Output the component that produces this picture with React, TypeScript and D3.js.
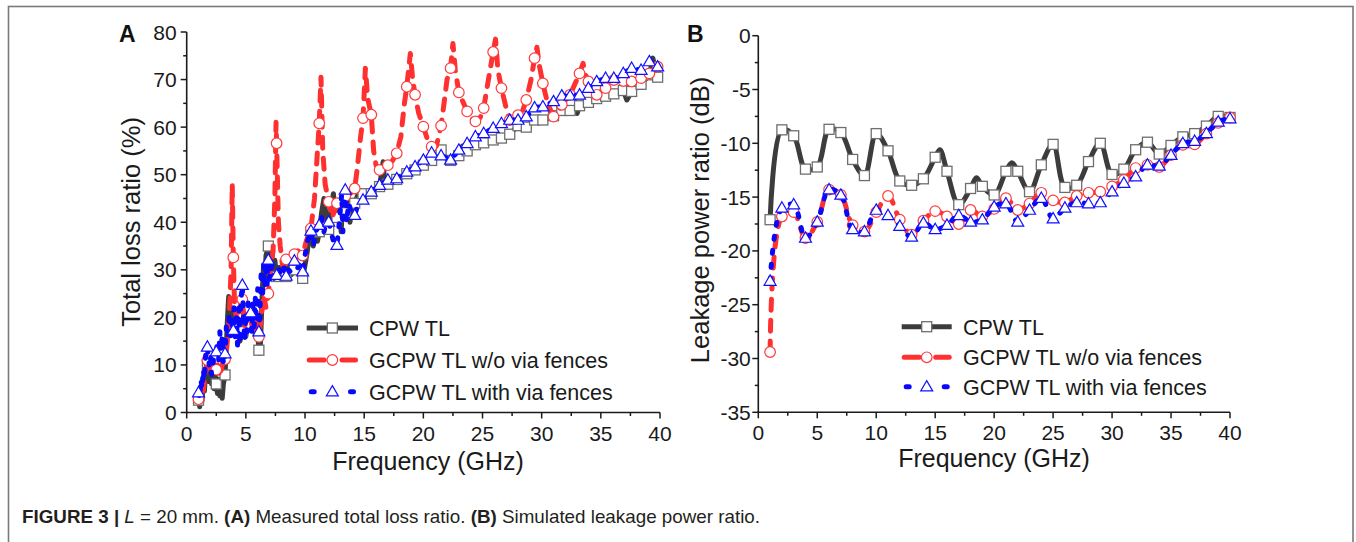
import * as d3 from "d3";

type Pt = [number, number];

const FONT = '"Liberation Sans", Arial, Helvetica, sans-serif';
const CAPTION_FONT = '"Liberation Sans Narrow", "Arial Narrow", "Liberation Sans", sans-serif';

// ---- ticks / labels ----
const xTicks = [0, 5, 10, 15, 20, 25, 30, 35, 40];
const xMinorTicks = [2.5, 7.5, 12.5, 17.5, 22.5, 27.5, 32.5, 37.5];
const yTicksA = [0, 10, 20, 30, 40, 50, 60, 70, 80];
const yMinorA = [5, 15, 25, 35, 45, 55, 65, 75];
const yTicksB = [0, -5, -10, -15, -20, -25, -30, -35];
const yMinorB = [-2.5, -7.5, -12.5, -17.5, -22.5, -27.5, -32.5];
const seriesNames = ["CPW TL", "GCPW TL w/o via fences", "GCPW TL with via fences"];

// ---- panel A : measured total loss ratio (%) ----
const markerFreqA = [
  1.0, 1.75, 2.5, 3.24, 3.94, 4.7, 5.4, 6.1, 6.9, 7.6, 8.4, 9.1, 9.8, 10.5, 11.2, 12.0, 12.7, 13.4,
  14.2, 14.9, 15.6, 16.3, 17.0, 17.75, 18.6, 19.3, 20.0, 20.7, 21.5, 22.3, 23.0, 23.7, 24.4, 25.1,
  25.9, 26.6, 27.3, 28.0, 28.7, 29.4, 30.1, 31.0, 31.7, 32.4, 33.2, 33.95, 34.65, 35.4, 36.1, 36.9,
  37.6, 38.4, 39.1, 39.8,
];
const cpwMarkA = [
  2.6, 10, 6, 7.9, 18, 17, 18, 13.1, 35, 28.6, 28.6, 30, 28.2, 38, 38, 38.5, 41, 42, 44, 46, 46,
  47.5, 48, 49, 50.2, 51, 52, 53, 55.2, 53, 54, 55, 56.3, 56.7, 57.3, 57.7, 58.5, 60.3, 60, 61.5,
  61.5, 62.4, 63.5, 63.5, 64.5, 65.2, 66, 66.5, 67, 67.7, 67.5, 69, 71, 70.5,
];
const noFenceMarkA = [
  2.8, 11, 9, 11.2, 32.6, 23.8, 20, 15.9, 25, 56.6, 32.2, 33.3, 33, 38.7, 60.8, 44.3, 44, 45.5,
  47.1, 61.9, 62.6, 51, 52, 54.5, 68.5, 66.8, 60.1, 55.9, 60.3, 72.4, 67.3, 63.3, 61.2, 64, 75.8,
  68.2, 61.5, 62.5, 65.7, 74.5, 69.2, 62.2, 64.7, 66.8, 71.3, 69.6, 66.8, 68.2, 69.9, 69.7, 69.6,
  70.3, 71.3, 72.7,
];
const fenceMarkA = [
  4.2, 13.8, 12.8, 12.4, 17.3, 26.8, 21, 17, 32.1, 28.9, 28.7, 31.9, 29.6, 38.2, 39.4, 40.1, 35.2,
  46.8, 41.5, 44.7, 46.4, 47.8, 48.9, 49.2, 50.6, 51.7, 53.1, 54.6, 54, 53.1, 55.2, 56.6, 58, 58.7,
  59.8, 60.8, 61.5, 61.5, 62.2, 64.1, 64.3, 65.4, 66.6, 66.6, 66.8, 68.2, 69.6, 70.3, 70.3, 71.3,
  72.4, 72, 73.8, 72.7,
];

const cpwLineA: Pt[] = [
  [1.0, 2.6], [1.1, 1.2], [1.2, 4.5], [1.3, 2.5], [1.4, 7.5], [1.5, 4.5], [1.6, 9.5], [1.75, 10],
  [1.85, 6.5], [2.0, 10.5], [2.1, 6], [2.2, 9], [2.3, 5], [2.4, 8], [2.5, 6], [2.6, 4], [2.7, 7],
  [2.8, 3.5], [2.9, 6.5], [3.0, 3.0], [3.1, 6], [3.24, 7.9], [3.35, 14], [3.45, 20], [3.55, 24.4],
  [3.65, 18], [3.75, 22], [3.85, 17], [3.94, 18], [4.05, 21], [4.2, 16], [4.35, 19], [4.5, 15],
  [4.7, 17], [4.85, 21], [5.0, 16], [5.2, 20], [5.4, 18], [5.6, 22], [5.8, 16], [5.95, 19],
  [6.1, 13.1], [6.2, 12.5], [6.3, 19], [6.4, 26], [6.5, 31], [6.6, 27], [6.7, 33], [6.9, 35],
  [7.0, 32], [7.15, 34], [7.3, 30], [7.45, 32], [7.6, 28.6], [7.8, 30.5], [8.0, 29], [8.2, 31],
  [8.4, 28.6], [8.6, 30.5], [8.85, 29], [9.1, 30], [9.3, 31], [9.5, 29], [9.8, 28.2], [10.0, 31],
  [10.2, 34], [10.35, 37], [10.5, 38], [10.7, 35], [10.9, 39], [11.05, 36], [11.2, 38], [11.4, 42],
  [11.6, 45], [11.8, 41], [12.0, 38.5], [12.2, 43], [12.4, 46], [12.55, 41], [12.7, 41], [12.9, 44],
  [13.05, 38], [13.2, 45], [13.4, 42], [13.6, 45], [13.8, 40], [14.0, 44], [14.2, 44], [14.5, 46],
  [14.9, 46], [15.3, 45.5], [15.6, 46], [16.0, 47], [16.3, 47.5], [16.6, 52.7], [16.75, 48],
  [17.0, 48], [17.4, 48.5], [17.75, 49], [18.2, 49.5], [18.6, 50.2], [19.3, 51], [20.0, 52],
  [20.7, 53], [21.2, 54], [21.5, 55.2], [21.9, 53.5], [22.3, 53], [23.0, 54], [23.3, 56],
  [23.7, 55], [24.4, 56.3], [25.1, 56.7], [25.9, 57.3], [26.6, 57.7], [27.3, 58.5], [28.0, 60.3],
  [28.7, 60], [29.4, 61.5], [30.1, 61.5], [31.0, 62.4], [31.7, 63.5], [32.4, 63.5], [33.0, 62.9],
  [33.2, 64.5], [33.95, 65.2], [34.65, 66], [35.4, 66.5], [36.1, 67], [36.9, 67.7], [37.2, 65.7],
  [37.6, 67.5], [38.4, 69], [39.1, 71], [39.4, 74.5], [39.6, 72], [39.8, 70.5],
];

const noFenceLineA: Pt[] = [
  [1.0, 2.8], [1.2, 6], [1.4, 4.5], [1.6, 9], [1.75, 11], [2.0, 9], [2.2, 12], [2.4, 8], [2.5, 9],
  [2.6, 10], [2.8, 7.5], [3.0, 10], [3.24, 11.2], [3.4, 14], [3.6, 20], [3.75, 30], [3.85, 48],
  [3.94, 32.6], [4.05, 22], [4.3, 19], [4.5, 22], [4.7, 23.8], [4.9, 18], [5.1, 21], [5.4, 20],
  [5.6, 17], [5.8, 19], [6.1, 15.9], [6.3, 20], [6.5, 25], [6.7, 22], [6.9, 25], [7.1, 30],
  [7.3, 34], [7.45, 45], [7.55, 61], [7.6, 56.6], [7.75, 40], [7.9, 35], [8.1, 31], [8.4, 32.2],
  [8.7, 33], [9.1, 33.3], [9.4, 34], [9.8, 33], [10.1, 36], [10.5, 38.7], [10.8, 45], [11.0, 53],
  [11.2, 60.8], [11.35, 70.5], [11.5, 55], [11.7, 48], [12.0, 44.3], [12.3, 41], [12.7, 44],
  [13.0, 45], [13.4, 45.5], [13.8, 46], [14.2, 47.1], [14.4, 51], [14.7, 58], [14.9, 61.9],
  [15.1, 72.4], [15.3, 66], [15.6, 62.6], [15.8, 55], [16.0, 52], [16.3, 51], [16.7, 51],
  [17.0, 52], [17.4, 53], [17.75, 54.5], [18.1, 58], [18.4, 65], [18.6, 68.5], [18.9, 75.5],
  [19.1, 70], [19.3, 66.8], [19.6, 63], [20.0, 60.1], [20.4, 57], [20.7, 55.9], [21.1, 56],
  [21.5, 60.3], [21.8, 66], [22.0, 70], [22.3, 72.4], [22.5, 77.6], [22.7, 72], [23.0, 67.3],
  [23.4, 65], [23.7, 63.3], [24.0, 62], [24.4, 61.2], [24.8, 62], [25.1, 64], [25.5, 70],
  [25.9, 75.8], [26.1, 78.5], [26.3, 72], [26.6, 68.2], [27.0, 64], [27.3, 61.5], [27.7, 62],
  [28.0, 62.5], [28.4, 63.5], [28.7, 65.7], [29.1, 70], [29.4, 74.5], [29.6, 76.8], [29.8, 73],
  [30.1, 69.2], [30.5, 65], [31.0, 62.2], [31.3, 63], [31.7, 64.7], [32.1, 66], [32.4, 66.8],
  [32.8, 69], [33.2, 71.3], [33.5, 73.4], [33.7, 71], [33.95, 69.6], [34.3, 68], [34.65, 66.8],
  [35.0, 67.5], [35.4, 68.2], [35.8, 69.5], [36.1, 69.9], [36.5, 70], [36.9, 69.7], [37.2, 69.5],
  [37.6, 69.6], [38.0, 70], [38.4, 70.3], [38.8, 70.8], [39.1, 71.3], [39.5, 72], [39.8, 72.7],
];

const fenceLineA: Pt[] = [
  [1.0, 4.2], [1.1, 3], [1.2, 7], [1.3, 5], [1.4, 9], [1.5, 7], [1.6, 12], [1.75, 13.8], [1.9, 10],
  [2.0, 12], [2.1, 8], [2.3, 12], [2.5, 12.8], [2.6, 15], [2.7, 11], [2.8, 17], [2.9, 13], [3.0, 16],
  [3.1, 10], [3.24, 12.4], [3.35, 18], [3.5, 16], [3.6, 21], [3.7, 15], [3.8, 19], [3.94, 17.3],
  [4.0, 22], [4.1, 15], [4.2, 20], [4.3, 14], [4.4, 22], [4.5, 14.5], [4.6, 24], [4.7, 26.8],
  [4.8, 20], [4.9, 15], [5.0, 21], [5.1, 17], [5.2, 23], [5.4, 21], [5.5, 17], [5.6, 23], [5.7, 18],
  [5.8, 24], [5.9, 19], [6.0, 26], [6.1, 17], [6.2, 22], [6.3, 30], [6.4, 24], [6.5, 31], [6.6, 26],
  [6.7, 30], [6.8, 27], [6.9, 32.1], [7.0, 28], [7.2, 31], [7.4, 28], [7.6, 28.9], [7.8, 30],
  [8.0, 29], [8.2, 30.5], [8.4, 28.7], [8.6, 30], [8.8, 29.5], [9.1, 31.9], [9.3, 30], [9.5, 31],
  [9.8, 29.6], [10.0, 33], [10.2, 36], [10.5, 38.2], [10.7, 35], [10.9, 38], [11.2, 39.4],
  [11.4, 41], [11.6, 38], [11.8, 40], [12.0, 40.1], [12.2, 38], [12.4, 36], [12.7, 35.2],
  [12.9, 40], [13.1, 46], [13.2, 38], [13.4, 46.8], [13.5, 40], [13.7, 44], [13.9, 42],
  [14.2, 41.5], [14.5, 44], [14.9, 44.7], [15.2, 45.5], [15.6, 46.4], [16.3, 47.8], [17.0, 48.9],
  [17.75, 49.2], [18.6, 50.6], [19.3, 51.7], [20.0, 53.1], [20.7, 54.6], [21.5, 54], [22.3, 53.1],
  [23.0, 55.2], [23.7, 56.6], [24.4, 58], [25.1, 58.7], [25.9, 59.8], [26.6, 60.8], [27.3, 61.5],
  [28.0, 61.5], [28.7, 62.2], [29.4, 64.1], [30.1, 64.3], [31.0, 65.4], [31.7, 66.6], [32.4, 66.6],
  [33.2, 66.8], [33.95, 68.2], [34.65, 69.6], [35.4, 70.3], [36.1, 70.3], [36.9, 71.3],
  [37.6, 72.4], [38.4, 72], [39.1, 73.8], [39.4, 74.2], [39.8, 72.7],
];

// ---- panel B : simulated leakage power ratio (dB) ----
const freqB = [
  1, 2, 3, 4, 5, 6, 7, 8, 9, 10, 11, 12, 13, 14, 15, 16, 17, 18, 19, 20, 21, 22, 23, 24, 25, 26, 27,
  28, 29, 30, 31, 32, 33, 34, 35, 36, 37, 38, 39, 40,
];
const cpwB = [
  -17.1, -8.75, -9.3, -12.4, -12.2, -8.7, -9.0, -11.5, -13.0, -9.1,
  -10.7, -13.5, -13.9, -13.3, -11.3, -12.6, -15.7, -14.2, -14.0, -14.8,
  -12.6, -12.6, -14.5, -12.0, -10.1, -14.1, -13.9, -11.7, -10.0, -12.9,
  -12.4, -10.6, -9.9, -11.0, -10.2, -9.4, -9.1, -8.4, -7.5, -7.6,
];
// curve crests of the CPW trace that fall between markers
const cpwCrestsB: Pt[] = [[15.4, -10.6], [18.5, -13.2], [21.5, -11.8]];
const noFenceB = [
  -29.4, -16.8, -16.4, -18.8, -17.3, -14.3, -14.8, -17.6, -18.2, -16.4,
  -14.9, -17.1, -18.5, -17.2, -16.3, -16.8, -17.5, -16.2, -16.8, -16.1,
  -15.1, -16.2, -15.6, -14.6, -15.3, -15.5, -14.9, -14.6, -14.5, -14.0,
  -13.4, -12.3, -12.0, -12.2, -11.1, -10.15, -10.1, -9.1, -8.1, -7.6,
];
const fenceB = [
  -22.8, -16.0, -15.7, -18.8, -17.3, -14.3, -14.8, -18.0, -18.2, -16.2,
  -16.7, -17.7, -18.7, -17.4, -18.0, -17.6, -16.7, -17.3, -17.1, -15.9,
  -15.6, -17.3, -16.2, -15.1, -17.0, -16.0, -15.5, -15.6, -15.5, -14.5,
  -13.7, -13.1, -12.0, -12.1, -11.1, -10.0, -9.8, -9.07, -8.0, -7.7,
];

// ---- styles ----
const GREY_LINE = "#3c3c3c";
const GREY_MARK = "#6e6e6e";
const RED = "#ff3030";
const BLUE = "#0808ff";
const LINE_W = 5;

type Kind = "square" | "circle" | "triangle";
const STYLES: { color: string; mark: string; dash?: string; kind: Kind }[] = [
  { color: GREY_LINE, mark: GREY_MARK, kind: "square" },
  { color: RED, mark: "#ff3b3b", dash: "11 10", kind: "circle" },
  { color: BLUE, mark: "#1010ff", dash: "3 11", kind: "triangle" },
];

const trianglePath = d3.symbol(d3.symbolTriangle, 62)() as string;

function Marker({ x, y, kind, color }: { x: number; y: number; kind: Kind; color: string }) {
  if (kind === "square")
    return <rect x={x - 5} y={y - 5} width={10} height={10} fill="#fff" stroke={color} strokeWidth={1.3} />;
  if (kind === "circle") return <circle cx={x} cy={y} r={5.3} fill="#fff" stroke={color} strokeWidth={1.2} />;
  return <path d={trianglePath} transform={`translate(${x},${y + 0.8})`} fill="#fff" stroke={color} strokeWidth={1.2} />;
}

type Scale = d3.ScaleLinear<number, number>;

function Axes({ xs, ys, yTicks, yMinor, labelGap }: { xs: Scale; ys: Scale; yTicks: number[]; yMinor: number[]; labelGap: number }) {
  const [x0, x1] = xs.range();
  const [y0, y1] = ys.range();
  const stroke = "#1a1a1a";
  return (
    <g fontFamily={FONT} fontSize={21} fill="#1a1a1a">
      <line x1={x0 - 0.8} x2={x1} y1={y0} y2={y0} stroke={stroke} strokeWidth={1.6} />
      <line x1={x0} x2={x0} y1={y0 + 0.8} y2={y1} stroke={stroke} strokeWidth={1.6} />
      {xTicks.map((t) => (
        <g key={`xt${t}`}>
          <line x1={xs(t)} x2={xs(t)} y1={y0} y2={y0 + 6} stroke={stroke} strokeWidth={1.5} />
          <text x={xs(t)} y={y0 + 28} textAnchor="middle">{t}</text>
        </g>
      ))}
      {xMinorTicks.map((t) => (
        <line key={`xm${t}`} x1={xs(t)} x2={xs(t)} y1={y0} y2={y0 + 3.5} stroke={stroke} strokeWidth={1.5} />
      ))}
      {yTicks.map((t) => (
        <g key={`yt${t}`}>
          <line x1={x0 - 6} x2={x0} y1={ys(t)} y2={ys(t)} stroke={stroke} strokeWidth={1.5} />
          <text x={x0 - labelGap} y={ys(t) + 7.5} textAnchor="end">{String(t)}</text>
        </g>
      ))}
      {yMinor.map((t) => (
        <line key={`ym${t}`} x1={x0 - 3.5} x2={x0} y1={ys(t)} y2={ys(t)} stroke={stroke} strokeWidth={1.5} />
      ))}
    </g>
  );
}

function Series({ line, marks, xs, ys, style, curve }: { line: Pt[]; marks: Pt[]; xs: Scale; ys: Scale; style: (typeof STYLES)[number]; curve: d3.CurveFactory }) {
  const gen = d3
    .line<Pt>()
    .x((d) => xs(d[0]))
    .y((d) => ys(d[1]))
    .curve(curve);
  return (
    <g>
      <path
        d={gen(line) ?? ""}
        fill="none"
        stroke={style.color}
        strokeWidth={LINE_W}
        strokeDasharray={style.dash}
        strokeLinecap="round"
        strokeLinejoin="round"
      />
      {marks.map((m, i) => (
        <Marker key={i} x={xs(m[0])} y={ys(m[1])} kind={style.kind} color={style.mark} />
      ))}
    </g>
  );
}

function Legend({ x0, x1, rows, textX }: { x0: number; x1: number; rows: number[]; textX: number }) {
  const mid = (x0 + x1) / 2;
  return (
    <g fontFamily={FONT} fontSize={21.5} fill="#1a1a1a">
      {STYLES.map((s, i) => {
        const y = rows[i];
        let segs: [number, number][];
        if (i === 0) segs = [[x0, x1]];
        else if (i === 1) segs = [[x0 + 2.5, x0 + 17.5], [x1 - 16, x1 - 2.5]];
        else segs = [[x0 + 4.5, x0 + 7.5], [x1 - 7.5, x1 - 4.5]];
        return (
          <g key={seriesNames[i]}>
            {segs.map((sg, j) => (
              <line key={j} x1={sg[0]} x2={sg[1]} y1={y} y2={y} stroke={s.color} strokeWidth={LINE_W} strokeLinecap={i === 0 ? "butt" : "round"} />
            ))}
            <Marker x={mid} y={y} kind={s.kind} color={s.mark} />
            <text x={textX} y={y + 8}>{seriesNames[i]}</text>
          </g>
        );
      })}
    </g>
  );
}

export default function App() {
  const xA = d3.scaleLinear().domain([0, 40]).range([186.7, 660]);
  const yA = d3.scaleLinear().domain([0, 80]).range([412.5, 32]);
  const xB = d3.scaleLinear().domain([0, 40]).range([758.3, 1230]);
  const yB = d3.scaleLinear().domain([-35, 0]).range([412.3, 35.7]);

  const marksA: Pt[][] = [cpwMarkA, noFenceMarkA, fenceMarkA].map((vals) => markerFreqA.map((f, i) => [f, vals[i]] as Pt));
  const linesA: Pt[][] = [cpwLineA, noFenceLineA, fenceLineA];

  const marksB: Pt[][] = [cpwB, noFenceB, fenceB].map((vals) => freqB.map((f, i) => [f, vals[i]] as Pt));
  const linesB: Pt[][] = [
    [...marksB[0], ...cpwCrestsB].sort((a, b) => a[0] - b[0]),
    marksB[1],
    marksB[2],
  ];
  const catmull = d3.curveCatmullRom.alpha(0.5);

  return (
    <svg
      width={1356}
      height={542}
      viewBox="0 0 1356 542"
      style={{ position: "absolute", left: 0, top: 0, display: "block", background: "#fff" }}
    >
      <rect x={8.5} y={6.5} width={1344.5} height={600} fill="none" stroke="#7a7a7a" strokeWidth={1.6} />

      {/* Panel A */}
      <text x={119} y={42} fontFamily={FONT} fontWeight="bold" fontSize={23} fill="#111">A</text>
      <Axes xs={xA} ys={yA} yTicks={yTicksA} yMinor={yMinorA} labelGap={10} />
      {STYLES.map((s, i) => (
        <Series key={`a${i}`} line={linesA[i]} marks={marksA[i]} xs={xA} ys={yA} style={s} curve={d3.curveLinear} />
      ))}
      <Legend x0={306.7} x1={358} rows={[328, 360, 391.7]} textX={369} />
      <text transform="translate(140,222) rotate(-90)" textAnchor="middle" fontFamily={FONT} fontSize={25.5} fill="#1a1a1a">
        Total loss ratio (%)
      </text>
      <text x={428} y={470} textAnchor="middle" fontFamily={FONT} fontSize={25} fill="#1a1a1a">
        Frequency (GHz)
      </text>

      {/* Panel B */}
      <text x={687} y={41.5} fontFamily={FONT} fontWeight="bold" fontSize={23} fill="#111">B</text>
      <Axes xs={xB} ys={yB} yTicks={yTicksB} yMinor={yMinorB} labelGap={7.5} />
      {STYLES.map((s, i) => (
        <Series key={`b${i}`} line={linesB[i]} marks={marksB[i]} xs={xB} ys={yB} style={s} curve={catmull} />
      ))}
      <Legend x0={901.7} x1={951.7} rows={[326.7, 357.3, 386.7]} textX={963} />
      <text transform="translate(709,220) rotate(-90)" textAnchor="middle" fontFamily={FONT} fontSize={25.5} fill="#1a1a1a">
        Leakage power ratio (dB)
      </text>
      <text x={994} y={467} textAnchor="middle" fontFamily={FONT} fontSize={25} fill="#1a1a1a">
        Frequency (GHz)
      </text>

      {/* Caption */}
      <text x={22} y={523} fontFamily={CAPTION_FONT} fontSize={18.5} fill="#231f20" textLength={738} lengthAdjust="spacingAndGlyphs">
        <tspan fontWeight="bold">FIGURE 3 | </tspan>
        <tspan fontStyle="italic">L</tspan>
        {" = 20 mm. "}
        <tspan fontWeight="bold">(A)</tspan>
        {" Measured total loss ratio. "}
        <tspan fontWeight="bold">(B)</tspan>
        {" Simulated leakage power ratio."}
      </text>
    </svg>
  );
}
